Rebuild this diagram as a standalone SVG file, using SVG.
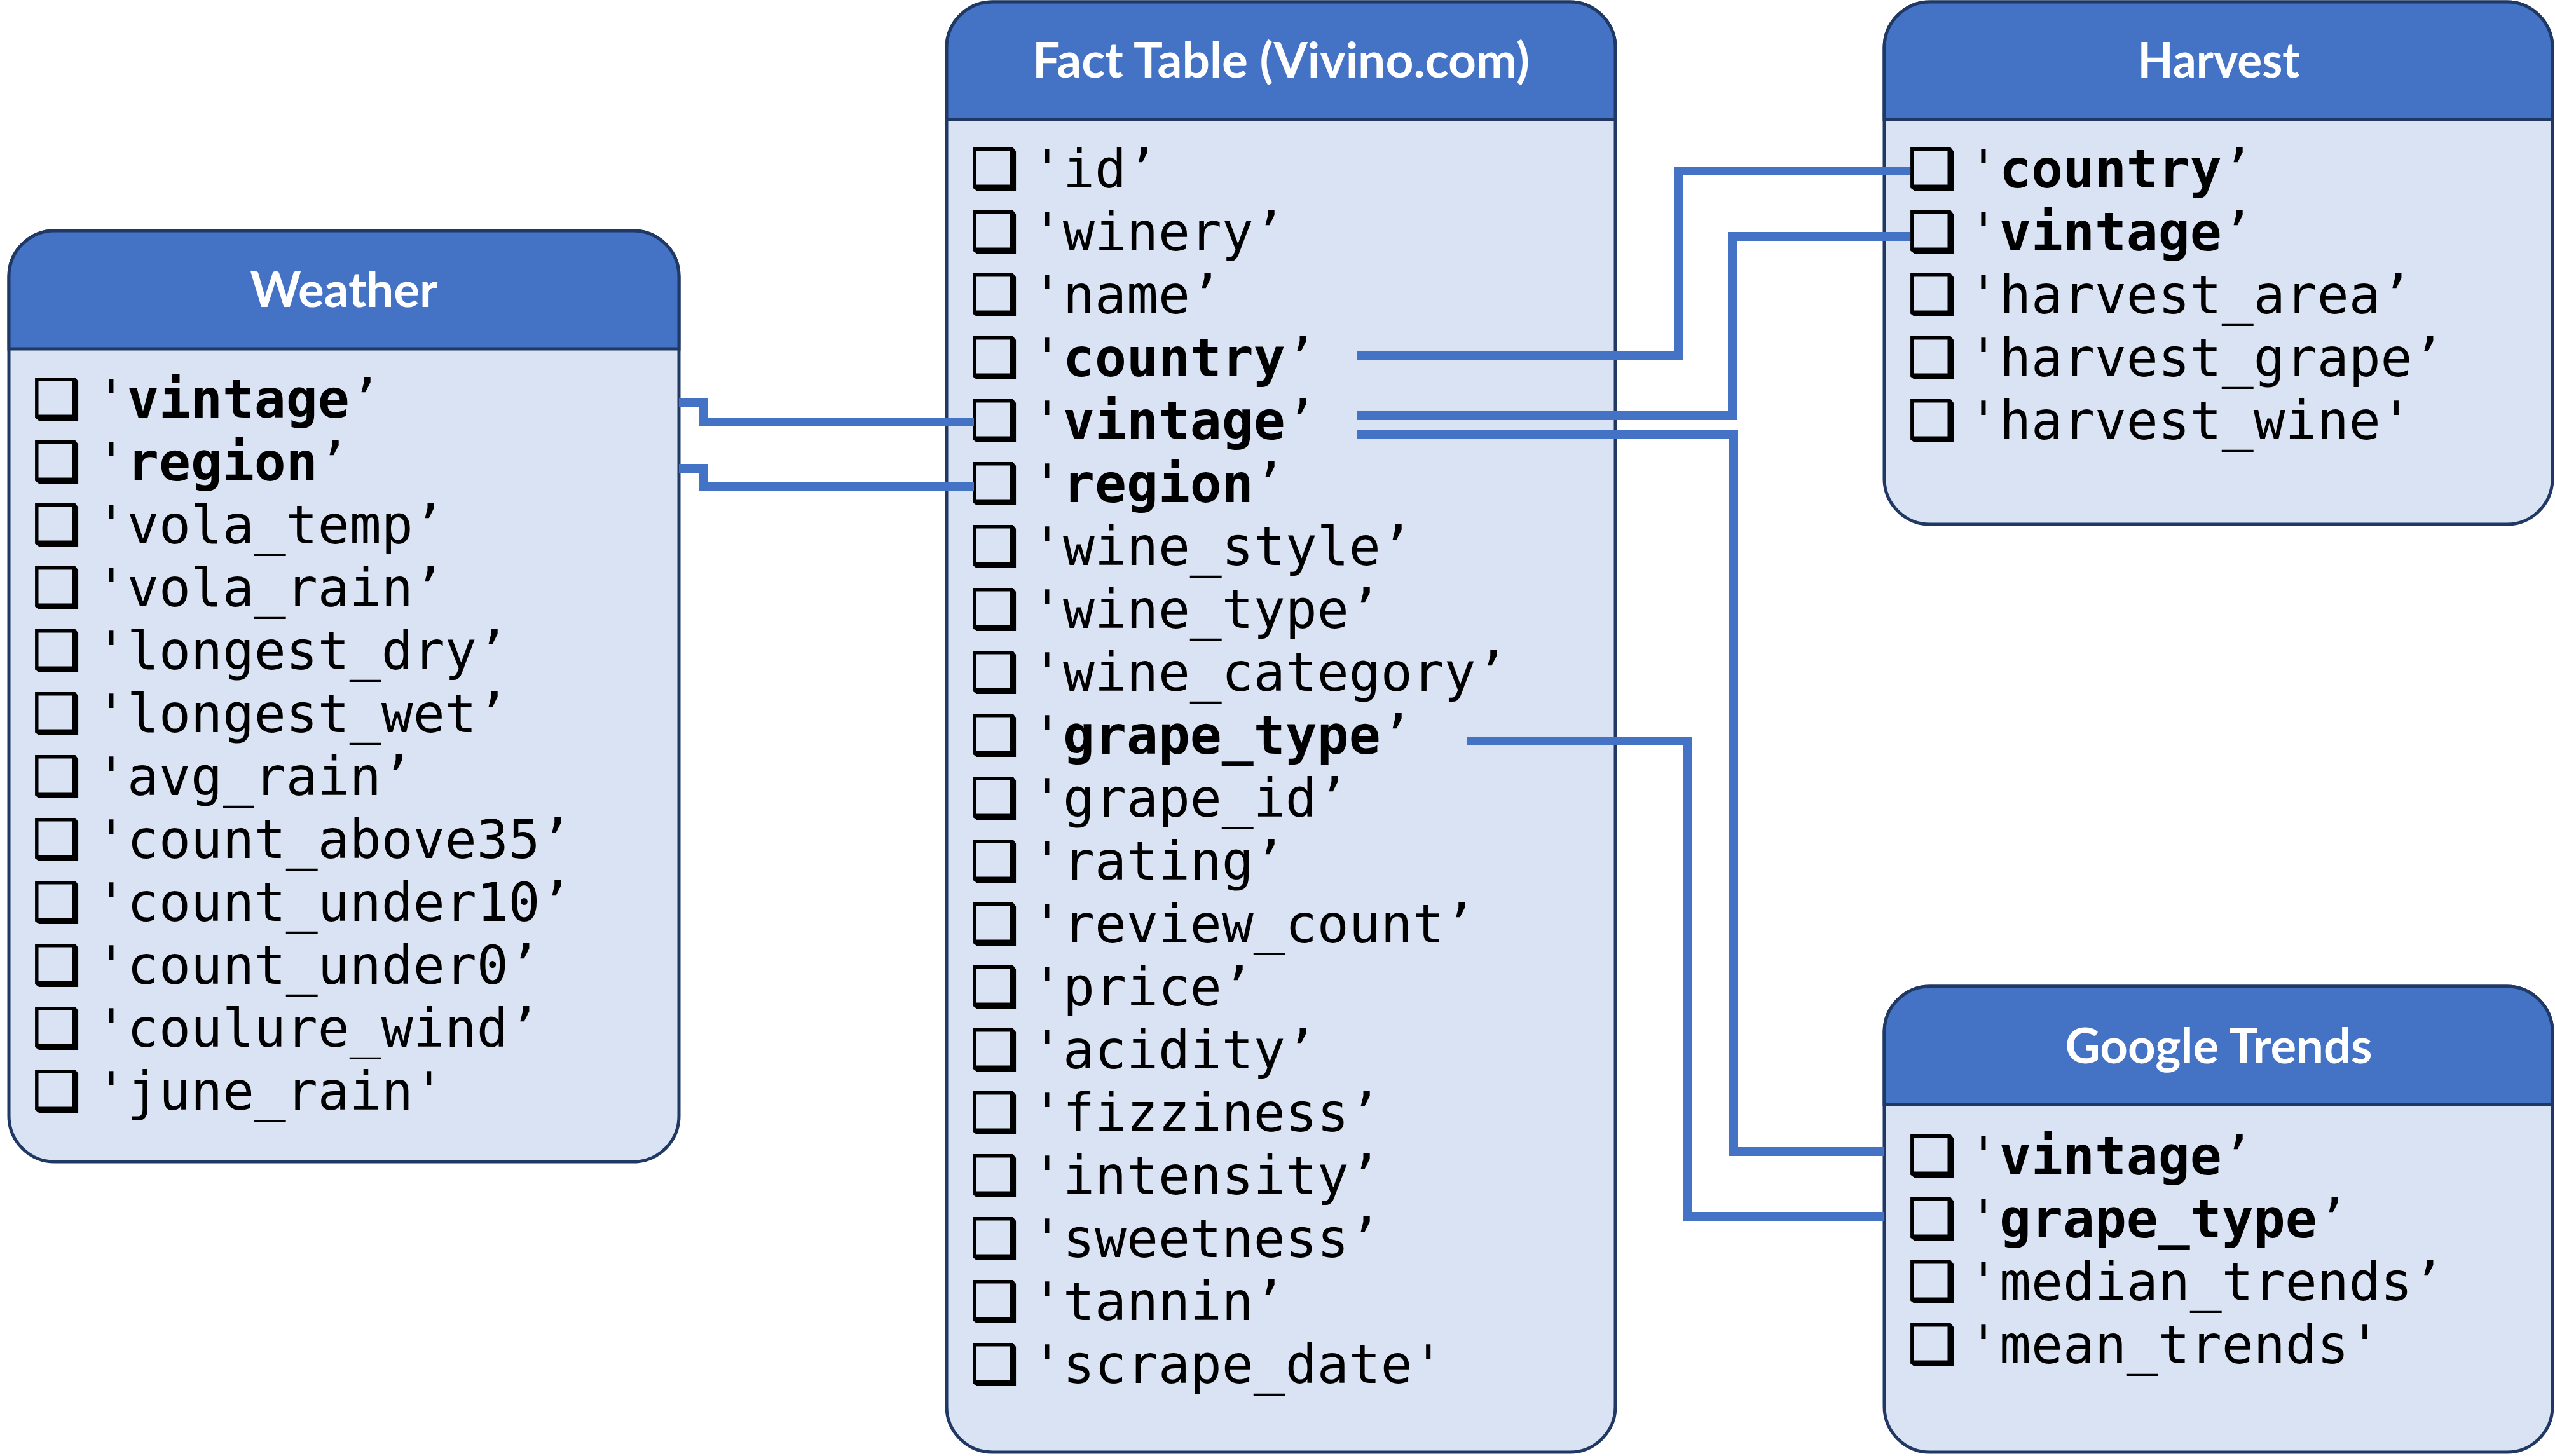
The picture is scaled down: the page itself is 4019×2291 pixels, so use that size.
<svg xmlns="http://www.w3.org/2000/svg" width="4019" height="2291" viewBox="0 0 4019 2291">
<style>
.bg{fill:#ffffff}
.body{fill:#DAE3F3;stroke:#1F3864;stroke-width:5}
.hdr{fill:#4472C4;stroke:#1F3864;stroke-width:5}
.title{font-family:Lato,"Open Sans","Liberation Sans",sans-serif;font-weight:700;font-size:76px;fill:#ffffff;text-anchor:middle}
.row{font-family:"DejaVu Sans Mono","Liberation Mono",monospace;font-size:83px;fill:#000000}
.b{font-weight:700}
.cb{font-family:"DejaVu Sans",sans-serif;font-size:85px;fill:#000000;stroke:#000000;stroke-width:2}
.conn{fill:none;stroke:#4472C4;stroke-width:14;stroke-linejoin:miter;stroke-linecap:butt}
</style>
<rect class="bg" x="0" y="0" width="4019" height="2291"/>

<g id="weather">
  <rect class="body" x="14" y="363" width="1054" height="1465" rx="72" ry="72"/>
  <path class="hdr" d="M14,549 V435 A72,72 0 0 1 86,363 H996 A72,72 0 0 1 1068,435 V549 Z"/>
  <text class="title" x="541" y="483" textLength="295" lengthAdjust="spacingAndGlyphs">Weather</text>
  <g class="cb">
    <text x="51" y="657">❑</text><text x="51" y="756">❑</text><text x="51" y="855">❑</text><text x="51" y="954">❑</text>
    <text x="51" y="1053">❑</text><text x="51" y="1152">❑</text><text x="51" y="1251">❑</text><text x="51" y="1350">❑</text>
    <text x="51" y="1449">❑</text><text x="51" y="1548">❑</text><text x="51" y="1647">❑</text><text x="51" y="1746">❑</text>
  </g>
  <g class="row">
    <text x="150" y="657">'<tspan class="b">vintage</tspan>’</text>
    <text x="150" y="756">'<tspan class="b">region</tspan>’</text>
    <text x="150" y="855">'vola_temp’</text>
    <text x="150" y="954">'vola_rain’</text>
    <text x="150" y="1053">'longest_dry’</text>
    <text x="150" y="1152">'longest_wet’</text>
    <text x="150" y="1251">'avg_rain’</text>
    <text x="150" y="1350">'count_above35’</text>
    <text x="150" y="1449">'count_under10’</text>
    <text x="150" y="1548">'count_under0’</text>
    <text x="150" y="1647">'coulure_wind’</text>
    <text x="150" y="1746">'june_rain'</text>
  </g>
</g>

<g id="fact-table">
  <rect class="body" x="1489" y="3" width="1052" height="2282" rx="72" ry="72"/>
  <path class="hdr" d="M1489,188 V75 A72,72 0 0 1 1561,3 H2469 A72,72 0 0 1 2541,75 V188 Z"/>
  <text class="title" x="2015" y="122" textLength="782" lengthAdjust="spacingAndGlyphs">Fact Table (Vivino.com)</text>
  <g class="cb">
    <text x="1526" y="295">❑</text><text x="1526" y="394">❑</text><text x="1526" y="493">❑</text><text x="1526" y="592">❑</text>
    <text x="1526" y="691">❑</text><text x="1526" y="790">❑</text><text x="1526" y="889">❑</text><text x="1526" y="988">❑</text>
    <text x="1526" y="1087">❑</text><text x="1526" y="1186">❑</text><text x="1526" y="1285">❑</text><text x="1526" y="1384">❑</text>
    <text x="1526" y="1483">❑</text><text x="1526" y="1582">❑</text><text x="1526" y="1681">❑</text><text x="1526" y="1780">❑</text>
    <text x="1526" y="1879">❑</text><text x="1526" y="1978">❑</text><text x="1526" y="2077">❑</text><text x="1526" y="2176">❑</text>
  </g>
  <g class="row">
    <text x="1622" y="295">'id’</text>
    <text x="1622" y="394">'winery’</text>
    <text x="1622" y="493">'name’</text>
    <text x="1622" y="592">'<tspan class="b">country</tspan>’</text>
    <text x="1622" y="691">'<tspan class="b">vintage</tspan>’</text>
    <text x="1622" y="790">'<tspan class="b">region</tspan>’</text>
    <text x="1622" y="889">'wine_style’</text>
    <text x="1622" y="988">'wine_type’</text>
    <text x="1622" y="1087">'wine_category’</text>
    <text x="1622" y="1186">'<tspan class="b">grape_type</tspan>’</text>
    <text x="1622" y="1285">'grape_id’</text>
    <text x="1622" y="1384">'rating’</text>
    <text x="1622" y="1483">'review_count’</text>
    <text x="1622" y="1582">'price’</text>
    <text x="1622" y="1681">'acidity’</text>
    <text x="1622" y="1780">'fizziness’</text>
    <text x="1622" y="1879">'intensity’</text>
    <text x="1622" y="1978">'sweetness’</text>
    <text x="1622" y="2077">'tannin’</text>
    <text x="1622" y="2176">'scrape_date'</text>
  </g>
</g>

<g id="harvest">
  <rect class="body" x="2964" y="3" width="1051" height="822" rx="72" ry="72"/>
  <path class="hdr" d="M2964,188 V75 A72,72 0 0 1 3036,3 H3943 A72,72 0 0 1 4015,75 V188 Z"/>
  <text class="title" x="3490" y="122" textLength="255" lengthAdjust="spacingAndGlyphs">Harvest</text>
  <g class="cb">
    <text x="3001" y="295">❑</text><text x="3001" y="394">❑</text><text x="3001" y="493">❑</text><text x="3001" y="592">❑</text><text x="3001" y="691">❑</text>
  </g>
  <g class="row">
    <text x="3095" y="295">'<tspan class="b">country</tspan>’</text>
    <text x="3095" y="394">'<tspan class="b">vintage</tspan>’</text>
    <text x="3095" y="493">'harvest_area’</text>
    <text x="3095" y="592">'harvest_grape’</text>
    <text x="3095" y="691">'harvest_wine'</text>
  </g>
</g>

<g id="google-trends">
  <rect class="body" x="2964" y="1552" width="1051" height="733" rx="72" ry="72"/>
  <path class="hdr" d="M2964,1738 V1624 A72,72 0 0 1 3036,1552 H3943 A72,72 0 0 1 4015,1624 V1738 Z"/>
  <text class="title" x="3490" y="1673" textLength="483" lengthAdjust="spacingAndGlyphs">Google Trends</text>
  <g class="cb">
    <text x="3001" y="1848">❑</text><text x="3001" y="1947">❑</text><text x="3001" y="2046">❑</text><text x="3001" y="2145">❑</text>
  </g>
  <g class="row">
    <text x="3095" y="1848">'<tspan class="b">vintage</tspan>’</text>
    <text x="3095" y="1947">'<tspan class="b">grape_type</tspan>’</text>
    <text x="3095" y="2046">'median_trends’</text>
    <text x="3095" y="2145">'mean_trends'</text>
  </g>
</g>

<g id="connectors">
  <path class="conn" d="M1068,634 H1107 V664 H1532"/>
  <path class="conn" d="M1068,737 H1107 V765 H1532"/>
  <path class="conn" d="M2134,559 H2640 V269 H3005"/>
  <path class="conn" d="M2134,654 H2725 V372 H3005"/>
  <path class="conn" d="M2134,683 H2727 V1812 H2964"/>
  <path class="conn" d="M2308,1166 H2654 V1914 H2964"/>
</g>
</svg>
